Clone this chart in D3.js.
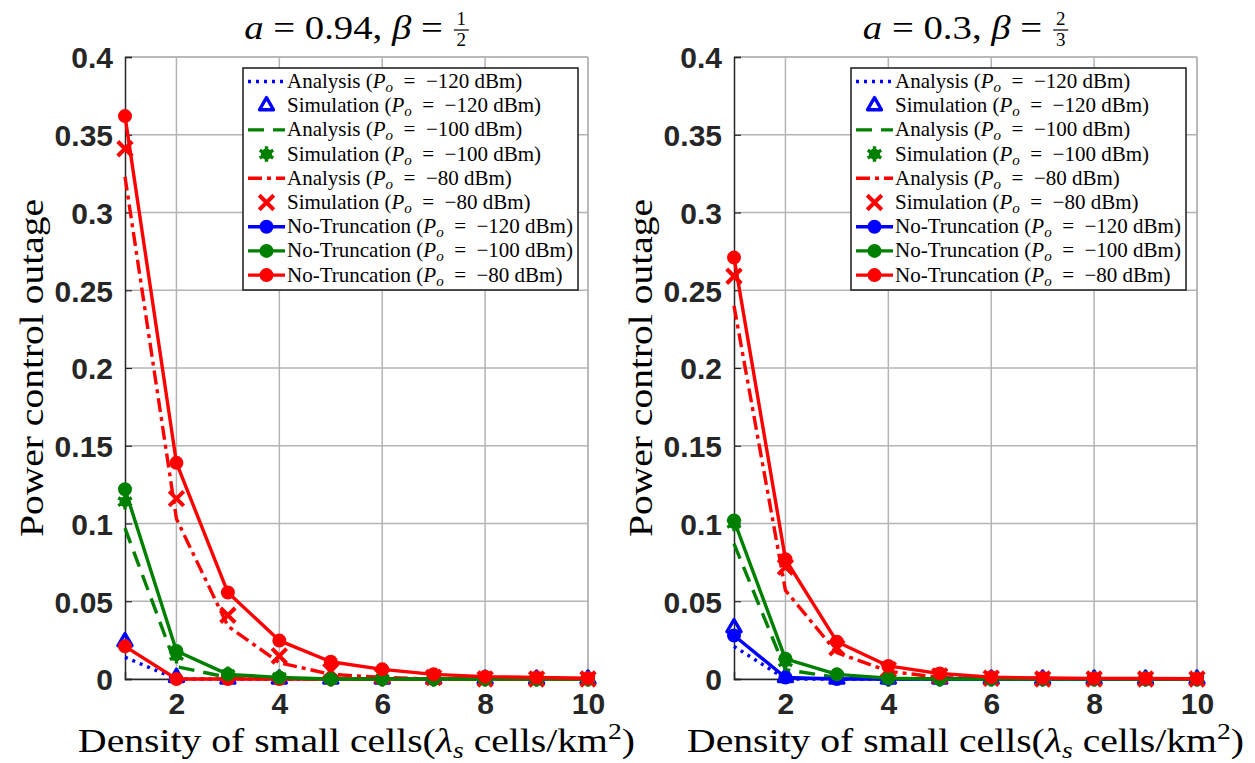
<!DOCTYPE html>
<html>
<head>
<meta charset="utf-8">
<script src="https://cdn.jsdelivr.net/npm/d3@7"></script>
<style>
  body { margin: 0; background: #fff; }
  svg { display: block; }
</style>
</head>
<body>
<svg id="fig" width="1255" height="763"></svg>
<script>
// Density of small cells (cells/km^2)
const density = [1, 2, 3, 4, 5, 6, 7, 8, 9, 10];
const xTickValues = [2, 4, 6, 8, 10];
const yTickValues = [0, 0.05, 0.1, 0.15, 0.2, 0.25, 0.3, 0.35, 0.4];
const yTickLabels = ["0", "0.05", "0.1", "0.15", "0.2", "0.25", "0.3", "0.35", "0.4"];

// a = 0.94, beta = 1/2
const anaL120 = [0.014, 0, 0, 0, 0, 0, 0, 0, 0, 0];
const simL120 = [0.024, 0.001, 0, 0, 0, 0, 0, 0, 0, 0];
const anaL100 = [0.097, 0.008, 0.001, 0, 0, 0, 0, 0, 0, 0];
const simL100 = [0.114, 0.015, 0.003, 0.001, 0, 0, 0, 0, 0, 0];
const anaL80  = [0.323, 0.103, 0.034, 0.0105, 0.003, 0.001, 0, 0, 0, 0];
const simL80  = [0.341, 0.116, 0.041, 0.0148, 0.005, 0.002, 0.001, 0, 0, 0];
const ntL120  = [0.021, 0, 0, 0, 0, 0, 0, 0, 0, 0];
const ntL100  = [0.122, 0.018, 0.003, 0.001, 0, 0, 0, 0, 0, 0];
const ntL80   = [0.362, 0.139, 0.0556, 0.0247, 0.0111, 0.0062, 0.003, 0.0015, 0.001, 0.0005];

// a = 0.3, beta = 2/3
const anaR120 = [0.021, 0, 0, 0, 0, 0, 0, 0, 0, 0];
const simR120 = [0.033, 0.001, 0, 0, 0, 0, 0, 0, 0, 0];
const anaR100 = [0.087, 0.006, 0.001, 0, 0, 0, 0, 0, 0, 0];
const simR100 = [0.1, 0.011, 0.002, 0, 0, 0, 0, 0, 0, 0];
const anaR80  = [0.24, 0.057, 0.017, 0.005, 0.001, 0, 0, 0, 0, 0];
const simR80  = [0.259, 0.072, 0.02, 0.006, 0.002, 0.0005, 0, 0, 0, 0];
const ntR120  = [0.028, 0.001, 0, 0, 0, 0, 0, 0, 0, 0];
const ntR100  = [0.102, 0.013, 0.003, 0.0005, 0, 0, 0, 0, 0, 0];
const ntR80   = [0.271, 0.077, 0.024, 0.0084, 0.0035, 0.0012, 0.0006, 0.0004, 0.0003, 0.0002];

const legendLabels = [
  ["Analysis (", "\u2212120 dBm)"],
  ["Simulation (", "\u2212120 dBm)"],
  ["Analysis (", "\u2212100 dBm)"],
  ["Simulation (", "\u2212100 dBm)"],
  ["Analysis (", "\u221280 dBm)"],
  ["Simulation (", "\u221280 dBm)"],
  ["No-Truncation (", "\u2212120 dBm)"],
  ["No-Truncation (", "\u2212100 dBm)"],
  ["No-Truncation (", "\u221280 dBm)"]
];

const BLUE = "#0000ff", GREEN = "#008000", RED = "#ff0000";
const DOT = "3,5", DASH = "16,9", DASHDOT = "14,5,4,5";

// style per legend entry (drawing order)
const styles = [
  { color: BLUE,  dash: DOT,     marker: null },
  { color: BLUE,  dash: null,    marker: "triangle", noLine: true },
  { color: GREEN, dash: DASH,    marker: null },
  { color: GREEN, dash: null,    marker: "asterisk", noLine: true },
  { color: RED,   dash: DASHDOT, marker: null },
  { color: RED,   dash: null,    marker: "times", noLine: true },
  { color: BLUE,  dash: null,    marker: "circle" },
  { color: GREEN, dash: null,    marker: "circle" },
  { color: RED,   dash: null,    marker: "circle" }
];

const panels = [
  {
    left: 125, right: 588, top: 57, bottom: 679,
    aText: "0.94", num: "1", den: "2",
    ylabelX: 31, legendX: 243,
    data: [anaL120, simL120, anaL100, simL100, anaL80, simL80, ntL120, ntL100, ntL80],
    colorOverride: { 6: RED }
  },
  {
    left: 734, right: 1197, top: 57, bottom: 679,
    aText: "0.3", num: "2", den: "3",
    ylabelX: 640, legendX: 851,
    data: [anaR120, simR120, anaR100, simR100, anaR80, simR80, ntR120, ntR100, ntR80],
    colorOverride: {}
  }
];

const svg = d3.select("#fig");
const SERIF = "'Liberation Serif', 'Times New Roman', serif";
const SANS = "'Liberation Sans', Arial, sans-serif";
const AXC = "#262626", GRID = "#b4b4b4";
const EQ = "\u2002=\u2002";

function drawMarker(g, type, cx, cy, color) {
  if (type === "circle") {
    g.append("circle").attr("cx", cx).attr("cy", cy).attr("r", 6)
      .attr("fill", color).attr("stroke", color).attr("stroke-width", 2);
  } else if (type === "triangle") {
    g.append("path").attr("transform", `translate(${cx},${cy})`)
      .attr("d", d3.symbol(d3.symbolTriangle2, 140)())
      .attr("fill", "none").attr("stroke", color).attr("stroke-width", 3.4)
      .attr("stroke-linejoin", "round");
  } else if (type === "asterisk") {
    g.append("circle").attr("cx", cx).attr("cy", cy).attr("r", 5.5).attr("fill", color);
    g.append("path").attr("transform", `translate(${cx},${cy})`)
      .attr("d", d3.symbol(d3.symbolAsterisk, 170)())
      .attr("fill", "none").attr("stroke", color).attr("stroke-width", 3.4);
  } else if (type === "times") {
    g.append("path").attr("transform", `translate(${cx},${cy})`)
      .attr("d", d3.symbol(d3.symbolTimes, 140)())
      .attr("fill", "none").attr("stroke", color).attr("stroke-width", 4);
  }
}

panels.forEach(p => {
  const x = d3.scaleLinear().domain([1, 10]).range([p.left, p.right]);
  const y = d3.scaleLinear().domain([0, 0.4]).range([p.bottom, p.top]);
  const g = svg.append("g");

  // grid
  const grid = g.append("g").attr("stroke", GRID).attr("stroke-width", 1.5);
  xTickValues.forEach(v => grid.append("line").attr("x1", x(v)).attr("x2", x(v))
    .attr("y1", p.top).attr("y2", p.bottom));
  yTickValues.forEach(v => grid.append("line").attr("x1", p.left).attr("x2", p.right)
    .attr("y1", y(v)).attr("y2", y(v)));

  // box: top/right light, left/bottom dark
  g.append("line").attr("x1", p.left).attr("x2", p.right).attr("y1", p.top).attr("y2", p.top)
    .attr("stroke", GRID).attr("stroke-width", 1.5);
  g.append("line").attr("x1", p.right).attr("x2", p.right).attr("y1", p.top).attr("y2", p.bottom)
    .attr("stroke", GRID).attr("stroke-width", 1.5);

  const yAxis = d3.axisLeft(y).tickValues(yTickValues).tickSize(-7)
    .tickFormat((d, i) => yTickLabels[i]).tickPadding(12);
  const ya = g.append("g").attr("transform", `translate(${p.left},0)`).call(yAxis);
  ya.select(".domain").attr("stroke", AXC).attr("stroke-width", 1.5);
  ya.selectAll(".tick line").attr("stroke", AXC).attr("stroke-width", 1.2);
  ya.selectAll(".tick text").attr("font-family", SANS).attr("font-weight", "bold")
    .attr("font-size", 30).attr("fill", AXC).attr("dy", "0.36em");

  const xAxis = d3.axisBottom(x).tickValues(xTickValues).tickSize(-7).tickPadding(14);
  const xa = g.append("g").attr("transform", `translate(0,${p.bottom})`).call(xAxis);
  xa.select(".domain").attr("stroke", AXC).attr("stroke-width", 1.5);
  xa.selectAll(".tick line").attr("stroke", AXC).attr("stroke-width", 1.2);
  xa.selectAll(".tick text").attr("font-family", SANS).attr("font-weight", "bold")
    .attr("font-size", 30).attr("fill", AXC);

  // series
  const line = d3.line().x((d, i) => x(density[i])).y(d => y(d));
  p.data.forEach((vals, si) => {
    const st = styles[si];
    const col = p.colorOverride[si] || st.color;
    const sg = g.append("g");
    if (!st.noLine) {
      sg.append("path").attr("d", line(vals)).attr("fill", "none")
        .attr("stroke", col).attr("stroke-width", 3.4)
        .attr("stroke-dasharray", st.dash).attr("stroke-linejoin", "round");
    }
    if (st.marker) {
      vals.forEach((v, i) => drawMarker(sg, st.marker, x(density[i]), y(v), col));
    }
  });

  // title: a = ..., beta = fraction
  const cx = (p.left + p.right) / 2;
  const title = g.append("text").attr("y", 39).attr("font-family", SERIF)
    .attr("font-size", 34).attr("fill", "#000");
  title.append("tspan").attr("font-style", "italic").text("a");
  title.append("tspan").text(" = " + p.aText + ", ");
  title.append("tspan").attr("font-style", "italic").text("\u03b2");
  title.append("tspan").text(" =");
  const tw = title.node().getComputedTextLength() * 1.14;
  title.attr("textLength", tw).attr("lengthAdjust", "spacingAndGlyphs");
  const fracW = 15, gap = 11;
  const startX = cx - (tw + gap + fracW) / 2;
  title.attr("x", startX);
  const fx = startX + tw + gap + fracW / 2;
  g.append("text").attr("x", fx).attr("y", 25).attr("text-anchor", "middle")
    .attr("font-family", SERIF).attr("font-size", 19).text(p.num);
  g.append("line").attr("x1", fx - fracW / 2).attr("x2", fx + fracW / 2)
    .attr("y1", 30).attr("y2", 30).attr("stroke", "#000").attr("stroke-width", 1.2);
  g.append("text").attr("x", fx).attr("y", 46).attr("text-anchor", "middle")
    .attr("font-family", SERIF).attr("font-size", 19).text(p.den);

  // axis labels
  g.append("text").attr("transform", `translate(${p.ylabelX},${(p.top + p.bottom) / 2}) rotate(-90)`)
    .attr("text-anchor", "middle").attr("dy", "0.35em")
    .attr("font-family", SERIF).attr("font-size", 33).attr("fill", "#000")
    .attr("textLength", 338).attr("lengthAdjust", "spacingAndGlyphs")
    .text("Power control outage");
  const xl = g.append("text").attr("x", cx).attr("y", 752).attr("text-anchor", "middle")
    .attr("font-family", SERIF).attr("font-size", 33).attr("fill", "#000")
    .attr("textLength", 557).attr("lengthAdjust", "spacingAndGlyphs");
  xl.append("tspan").text("Density of small cells(");
  xl.append("tspan").attr("font-style", "italic").text("\u03bb");
  xl.append("tspan").attr("font-style", "italic").attr("font-size", 23).attr("dy", 6).text("s");
  xl.append("tspan").attr("dy", -6).text(" cells/km");
  xl.append("tspan").attr("font-size", 23).attr("dy", -13).text("2");
  xl.append("tspan").attr("dy", 13).text(")");

  // legend
  const lx = p.legendX, ly = 68, lw = 335, lh = 222, rowH = 24.2;
  const lg = g.append("g");
  lg.append("rect").attr("x", lx).attr("y", ly).attr("width", lw).attr("height", lh)
    .attr("fill", "#fff").attr("stroke", AXC).attr("stroke-width", 1.6);
  styles.forEach((st, i) => {
    const ry = ly + 13.5 + i * rowH;
    const l0 = lx + 5, l1 = lx + 42, lm = (l0 + l1) / 2;
    if (!st.noLine) {
      lg.append("line").attr("x1", l0).attr("x2", l1).attr("y1", ry).attr("y2", ry)
        .attr("stroke", st.color).attr("stroke-width", 3.4)
        .attr("stroke-dasharray", st.dash);
    }
    if (st.marker) drawMarker(lg, st.marker, lm, ry, st.color);
    const t = lg.append("text").attr("x", lx + 44).attr("y", ry + 6.5)
      .attr("font-family", SERIF).attr("font-size", 21).attr("fill", "#000");
    t.append("tspan").text(legendLabels[i][0]);
    t.append("tspan").attr("font-style", "italic").text("P");
    t.append("tspan").attr("font-style", "italic").attr("font-size", 15).attr("dy", 4).text("o");
    t.append("tspan").attr("dy", -4).text(EQ + legendLabels[i][1]);
  });
});
</script>
</body>
</html>
